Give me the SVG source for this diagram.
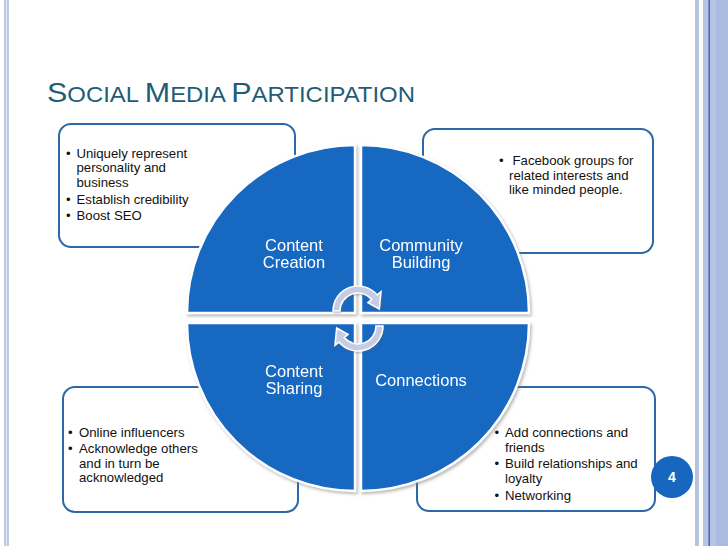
<svg xmlns="http://www.w3.org/2000/svg" width="728" height="546" viewBox="0 0 728 546">
<style>
.box{fill:#ffffff;stroke:#2b68a8;stroke-width:2}
.quad{fill:#1767c1;stroke:#ffffff;stroke-width:2.5}
.qt{font-family:"Liberation Sans",Arial,sans-serif;font-size:16.5px;fill:#ffffff;text-anchor:middle}
.bt{font-family:"Liberation Sans",Arial,sans-serif;font-size:13.2px;fill:#111111}
.arrow{fill:#c7cce5;stroke:#ffffff;stroke-width:1.5}
.title{font-family:"Liberation Sans",Arial,sans-serif;fill:#1f5d77}
</style>
<defs>
<filter id="sh" x="-10%" y="-10%" width="120%" height="120%">
<feDropShadow dx="1.5" dy="2" stdDeviation="1.5" flood-color="#808080" flood-opacity="0.55"/>
</filter>
<filter id="sh2" x="-20%" y="-20%" width="140%" height="140%">
<feDropShadow dx="0.5" dy="1" stdDeviation="0.8" flood-color="#606060" flood-opacity="0.5"/>
</filter>
</defs>
<rect x="0" y="0" width="728" height="546" fill="#ffffff"/>
<g id="borders">
<rect x="4" y="0" width="5" height="546" fill="#bccae6"/>
<rect x="6" y="0" width="1" height="546" fill="#dfe6f4"/>
<rect x="695" y="0" width="4" height="546" fill="#b6c3df"/>
<rect x="703" y="0" width="25" height="546" fill="#b5c4e3"/>
<rect x="716" y="0" width="12" height="546" fill="#aabbe0"/>
<rect x="708.5" y="0" width="1.5" height="546" fill="#3c68b5"/>
</g>
<text id="title" class="title" x="47" y="102" textLength="368" lengthAdjust="spacingAndGlyphs"><tspan font-size="28">S</tspan><tspan font-size="22">OCIAL </tspan><tspan font-size="28">M</tspan><tspan font-size="22">EDIA </tspan><tspan font-size="28">P</tspan><tspan font-size="22">ARTICIPATION</tspan></text>
<g id="box-creation">
<rect class="box" x="59" y="124" width="236" height="123" rx="12"/>
<text class="bt" x="66" y="157.5">•</text>
<text class="bt" x="76.5" y="157.5">Uniquely represent</text>
<text class="bt" x="76.5" y="172">personality and</text>
<text class="bt" x="76.5" y="186.5">business</text>
<text class="bt" x="66" y="204">•</text>
<text class="bt" x="76.5" y="204">Establish credibility</text>
<text class="bt" x="66" y="220">•</text>
<text class="bt" x="76.5" y="220">Boost SEO</text>
</g>
<g id="box-community">
<rect class="box" x="423" y="129" width="230" height="124" rx="12"/>
<text class="bt" x="499" y="165">•</text>
<text class="bt" x="512.5" y="165">Facebook groups for</text>
<text class="bt" x="509" y="179.5">related interests and</text>
<text class="bt" x="509" y="194">like minded people.</text>
</g>
<g id="box-sharing">
<rect class="box" x="63" y="387" width="235" height="125" rx="12"/>
<text class="bt" x="68" y="437">•</text>
<text class="bt" x="79" y="437">Online influencers</text>
<text class="bt" x="68" y="453">•</text>
<text class="bt" x="79" y="453">Acknowledge others</text>
<text class="bt" x="79" y="467.5">and in turn be</text>
<text class="bt" x="79" y="482">acknowledged</text>
</g>
<g id="box-connections">
<rect class="box" x="417" y="387" width="238" height="124" rx="12"/>
<text class="bt" x="494.5" y="437">•</text>
<text class="bt" x="505" y="437">Add connections and</text>
<text class="bt" x="505" y="451.5">friends</text>
<text class="bt" x="494.5" y="468">•</text>
<text class="bt" x="505" y="468">Build relationships and</text>
<text class="bt" x="505" y="482.5">loyalty</text>
<text class="bt" x="494.5" y="500">•</text>
<text class="bt" x="505" y="500">Networking</text>
</g>
<g id="quad-creation" filter="url(#sh)">
<path class="quad" d="M355,313 L187,313 A168,168 0 0 1 355,145 Z"/>
<text class="qt" x="294" y="251">Content</text>
<text class="qt" x="294" y="268">Creation</text>
</g>
<g id="quad-community" filter="url(#sh)">
<path class="quad" d="M361,313 L361,145 A168,168 0 0 1 529,313 Z"/>
<text class="qt" x="421" y="251">Community</text>
<text class="qt" x="421" y="268">Building</text>
</g>
<g id="quad-sharing" filter="url(#sh)">
<path class="quad" d="M355,323 L355,491 A168,168 0 0 1 187,323 Z"/>
<text class="qt" x="294" y="377">Content</text>
<text class="qt" x="294" y="394">Sharing</text>
</g>
<g id="quad-connections" filter="url(#sh)">
<path class="quad" d="M361,323 L529,323 A168,168 0 0 1 361,491 Z"/>
<text class="qt" x="421" y="386">Connections</text>
</g>
<g id="connectors" filter="url(#sh2)">
<path class="arrow" d="M333,311 A25,25 0 0 1 377.15,294.93 L380.98,291.71 L379.3,309 L367.96,302.64 L371.79,299.43 A18,18 0 0 0 340,311 Z"/>
<path class="arrow" transform="rotate(180 358 318.5)" d="M333,311 A25,25 0 0 1 377.15,294.93 L380.98,291.71 L379.3,309 L367.96,302.64 L371.79,299.43 A18,18 0 0 0 340,311 Z"/>
</g>
<g id="page-number">
<circle cx="672" cy="477" r="21" fill="#1767c1"/>
<text x="672" y="482" font-family="Liberation Sans,Arial,sans-serif" font-size="14" font-weight="bold" fill="#ffffff" text-anchor="middle">4</text>
</g>
</svg>
